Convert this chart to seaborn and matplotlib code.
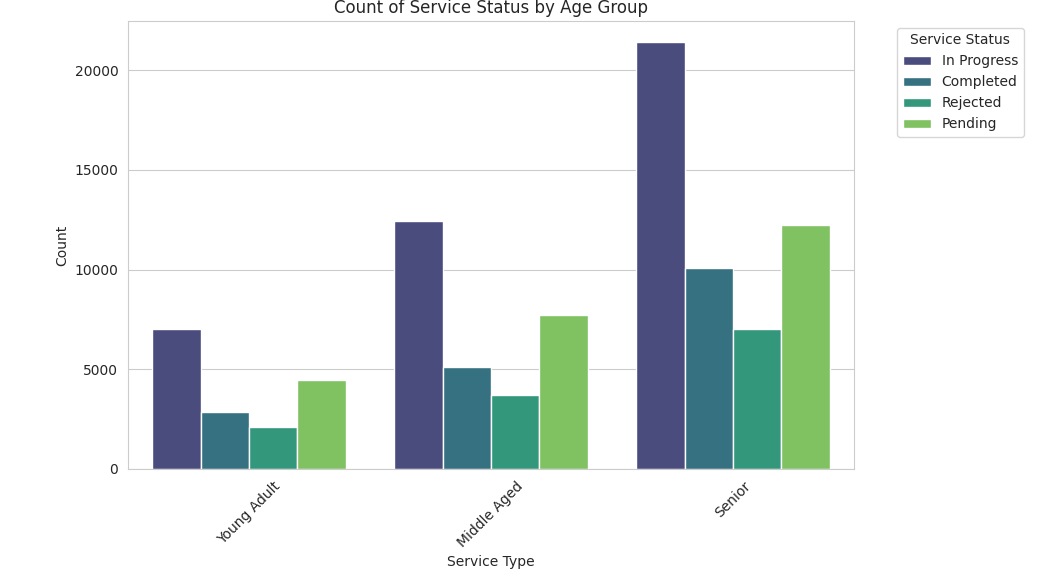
import pandas as pd
import matplotlib
matplotlib.use("Agg")
import matplotlib.pyplot as plt
from matplotlib.ticker import MultipleLocator
import seaborn as sns

age_groups = ["Young Adult", "Middle Aged", "Senior"]
statuses = ["In Progress", "Completed", "Rejected", "Pending"]
in_progress = [7000, 12450, 21400]
completed = [2850, 5100, 10080]
rejected = [2130, 3690, 7000]
pending = [4450, 7720, 12240]

rows = []
for status, vals in zip(statuses, [in_progress, completed, rejected, pending]):
    for grp, v in zip(age_groups, vals):
        rows.append({"Age Group": grp, "Service Status": status, "Count": v})
df = pd.DataFrame(rows)

sns.set_style("whitegrid")
fig = plt.figure(figsize=(10.59, 5.85), dpi=100)
ax = fig.add_axes([128 / 1059, 116 / 585, 726 / 1059, 448 / 585])
sns.barplot(data=df, x="Age Group", y="Count", hue="Service Status",
            hue_order=statuses, order=age_groups, palette="viridis", ax=ax)
ax.yaxis.set_major_locator(MultipleLocator(5000))
ax.set_title("Count of Service Status by Age Group", fontsize=12)
ax.set_xlabel("Service Type")
ax.set_ylabel("Count")
plt.setp(ax.get_xticklabels(), rotation=45)
ax.legend(title="Service Status", bbox_to_anchor=(1.05, 1), loc="upper left")
fig.savefig("out.png", dpi=100)
